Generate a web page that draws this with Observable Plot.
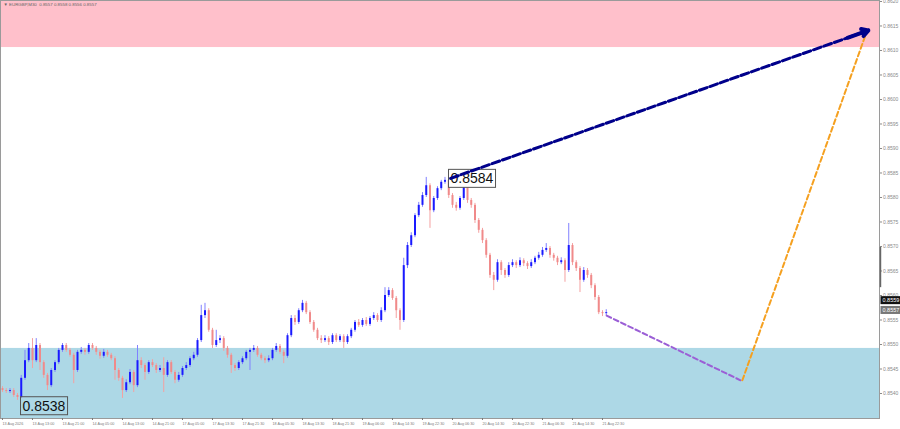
<!DOCTYPE html>
<html><head><meta charset="utf-8">
<script src="https://cdn.jsdelivr.net/npm/d3@7"></script>
<script src="https://cdn.jsdelivr.net/npm/@observablehq/plot@0.6"></script>
<style>body{margin:0;background:#fff} svg{display:block}</style>
</head><body><div id="chart"></div>
<script>
const symbolHeader = "▼ EURGBP,M30  0.8557 0.8558 0.8556 0.8557";

const opens = [
0.85410,0.85406,0.85404,0.85406,0.85396,0.85392,0.85431,0.85467,0.85492,0.85467,
0.85498,0.85463,0.85437,0.85416,0.85447,0.85463,0.85488,0.85498,0.85488,0.85478,
0.85447,0.85484,0.85488,0.85484,0.85498,0.85492,0.85484,0.85476,0.85484,0.85478,
0.85471,0.85447,0.85431,0.85406,0.85422,0.85443,0.85416,0.85467,0.85457,0.85443,
0.85463,0.85457,0.85447,0.85451,0.85437,0.85463,0.85443,0.85427,0.85437,0.85451,
0.85457,0.85471,0.85478,0.85508,0.85559,0.85569,0.85529,0.85498,0.85508,0.85512,
0.85492,0.85478,0.85457,0.85451,0.85463,0.85471,0.85484,0.85488,0.85492,0.85478,
0.85471,0.85467,0.85471,0.85488,0.85496,0.85484,0.85476,0.85518,0.85553,0.85545,
0.85569,0.85584,0.85565,0.85545,0.85529,0.85512,0.85508,0.85512,0.85504,0.85518,
0.85508,0.85516,0.85504,0.85516,0.85529,0.85545,0.85539,0.85549,0.85541,0.85553,
0.85559,0.85549,0.85569,0.85600,0.85610,0.85594,0.85569,0.85549,0.85661,0.85702,
0.85722,0.85763,0.85784,0.85804,0.85824,0.85773,0.85798,0.85818,0.85831,0.85835,
0.85804,0.85784,0.85778,0.85798,0.85824,0.85794,0.85784,0.85753,0.85733,0.85712,
0.85682,0.85641,0.85631,0.85667,0.85651,0.85641,0.85661,0.85667,0.85661,0.85671,
0.85665,0.85659,0.85667,0.85676,0.85682,0.85692,0.85696,0.85682,0.85676,0.85667,
0.85671,0.85651,0.85702,0.85667,0.85655,0.85631,0.85651,0.85641,0.85620,0.85596,
0.85565,0.85563];

const closes = [
0.85406,0.85404,0.85406,0.85396,0.85392,0.85431,0.85467,0.85492,0.85467,0.85498,
0.85463,0.85437,0.85416,0.85447,0.85463,0.85488,0.85498,0.85488,0.85478,0.85447,
0.85484,0.85488,0.85484,0.85498,0.85492,0.85484,0.85476,0.85484,0.85478,0.85471,
0.85447,0.85431,0.85406,0.85422,0.85443,0.85416,0.85467,0.85457,0.85443,0.85463,
0.85457,0.85447,0.85451,0.85437,0.85463,0.85443,0.85427,0.85437,0.85451,0.85457,
0.85471,0.85478,0.85508,0.85559,0.85569,0.85529,0.85498,0.85508,0.85512,0.85492,
0.85478,0.85457,0.85451,0.85463,0.85471,0.85484,0.85488,0.85492,0.85478,0.85471,
0.85467,0.85471,0.85488,0.85496,0.85484,0.85476,0.85518,0.85553,0.85545,0.85569,
0.85584,0.85565,0.85545,0.85529,0.85512,0.85508,0.85512,0.85504,0.85518,0.85508,
0.85516,0.85504,0.85516,0.85529,0.85545,0.85539,0.85549,0.85541,0.85553,0.85559,
0.85549,0.85569,0.85600,0.85610,0.85594,0.85569,0.85549,0.85661,0.85702,0.85722,
0.85763,0.85784,0.85804,0.85824,0.85773,0.85798,0.85818,0.85831,0.85835,0.85804,
0.85784,0.85778,0.85798,0.85824,0.85794,0.85784,0.85753,0.85733,0.85712,0.85682,
0.85641,0.85631,0.85667,0.85651,0.85641,0.85661,0.85667,0.85661,0.85671,0.85665,
0.85659,0.85667,0.85676,0.85682,0.85692,0.85696,0.85682,0.85676,0.85667,0.85671,
0.85651,0.85702,0.85667,0.85655,0.85631,0.85651,0.85641,0.85620,0.85596,0.85565,
0.85563,0.85565];

const highs = [
0.85414,0.85410,0.85410,0.85410,0.85400,0.85437,0.85488,0.85502,0.85512,0.85512,
0.85502,0.85467,0.85441,0.85451,0.85467,0.85492,0.85502,0.85502,0.85492,0.85482,
0.85488,0.85494,0.85492,0.85502,0.85502,0.85496,0.85488,0.85490,0.85488,0.85482,
0.85475,0.85451,0.85435,0.85428,0.85449,0.85447,0.85498,0.85473,0.85461,0.85467,
0.85469,0.85461,0.85457,0.85473,0.85467,0.85467,0.85447,0.85443,0.85455,0.85463,
0.85475,0.85484,0.85512,0.85580,0.85584,0.85573,0.85533,0.85529,0.85518,0.85516,
0.85496,0.85482,0.85461,0.85467,0.85475,0.85488,0.85492,0.85498,0.85496,0.85482,
0.85475,0.85477,0.85492,0.85502,0.85500,0.85488,0.85522,0.85559,0.85559,0.85573,
0.85590,0.85588,0.85569,0.85549,0.85533,0.85518,0.85518,0.85516,0.85522,0.85522,
0.85520,0.85520,0.85520,0.85533,0.85549,0.85551,0.85553,0.85555,0.85557,0.85565,
0.85563,0.85575,0.85616,0.85616,0.85614,0.85598,0.85573,0.85676,0.85708,0.85728,
0.85767,0.85790,0.85810,0.85841,0.85828,0.85802,0.85822,0.85835,0.85841,0.85839,
0.85808,0.85790,0.85802,0.85841,0.85828,0.85798,0.85788,0.85757,0.85737,0.85716,
0.85686,0.85647,0.85673,0.85671,0.85655,0.85667,0.85673,0.85671,0.85677,0.85675,
0.85669,0.85673,0.85680,0.85688,0.85698,0.85706,0.85700,0.85686,0.85680,0.85677,
0.85675,0.85747,0.85706,0.85671,0.85659,0.85657,0.85655,0.85645,0.85624,0.85600,
0.85569,0.85571];

const lows = [
0.85402,0.85400,0.85400,0.85392,0.85386,0.85390,0.85427,0.85463,0.85451,0.85463,
0.85447,0.85431,0.85406,0.85412,0.85443,0.85459,0.85484,0.85484,0.85474,0.85420,
0.85443,0.85480,0.85478,0.85480,0.85488,0.85478,0.85470,0.85472,0.85474,0.85467,
0.85427,0.85425,0.85390,0.85402,0.85418,0.85402,0.85412,0.85451,0.85427,0.85439,
0.85453,0.85441,0.85443,0.85402,0.85433,0.85439,0.85420,0.85423,0.85433,0.85447,
0.85453,0.85467,0.85474,0.85504,0.85553,0.85525,0.85492,0.85494,0.85502,0.85486,
0.85472,0.85441,0.85445,0.85447,0.85459,0.85467,0.85447,0.85484,0.85474,0.85467,
0.85461,0.85463,0.85467,0.85484,0.85480,0.85461,0.85472,0.85514,0.85539,0.85541,
0.85565,0.85561,0.85541,0.85525,0.85508,0.85502,0.85504,0.85498,0.85500,0.85504,
0.85504,0.85492,0.85500,0.85512,0.85525,0.85535,0.85535,0.85537,0.85537,0.85549,
0.85545,0.85545,0.85565,0.85596,0.85590,0.85553,0.85529,0.85545,0.85655,0.85698,
0.85718,0.85759,0.85780,0.85800,0.85737,0.85769,0.85794,0.85814,0.85827,0.85798,
0.85778,0.85772,0.85774,0.85794,0.85788,0.85778,0.85747,0.85727,0.85706,0.85676,
0.85635,0.85610,0.85627,0.85641,0.85635,0.85637,0.85657,0.85655,0.85657,0.85659,
0.85653,0.85655,0.85663,0.85672,0.85678,0.85688,0.85676,0.85670,0.85661,0.85663,
0.85627,0.85647,0.85661,0.85649,0.85606,0.85627,0.85635,0.85614,0.85590,0.85561,
0.85557,0.85559];

const timeTickIdx = [0,8,16,24,32,40,48,56,64,72,80,88,96,104,112,120,128,136,144,152,160];
const timeLabels = ["13 Aug 2026","13 Aug 13:00","13 Aug 21:00","14 Aug 05:00","14 Aug 13:00","14 Aug 21:00","17 Aug 05:00","17 Aug 13:30","17 Aug 21:30","18 Aug 05:30","18 Aug 13:30","18 Aug 21:30","19 Aug 06:00","19 Aug 14:30","19 Aug 22:30","20 Aug 06:30","20 Aug 14:30","20 Aug 22:30","21 Aug 06:30","21 Aug 14:30","21 Aug 22:30"];
const priceTicks = [0.8540,0.8545,0.8550,0.8555,0.8560,0.8565,0.8570,0.8575,0.8580,0.8585,0.8590,0.8595,0.8600,0.8605,0.8610,0.8615,0.8620];

const resistanceZone = [0.86106, 0.8630];
const supportZone = [0.8530, 0.85492];

const waveArrow = [{i:119.5, p:0.85839},{i:230.9, p:0.86141}];
const wavePurple = [{i:161.1, p:0.85559},{i:196.8, p:0.85427}];
const waveOrange = [{i:197.3, p:0.85427},{i:230.4, p:0.86137}];
const waveLabels = [{i:119.2, p:0.85838, t:"0.8584"},{i:5.07, p:0.85374, t:"0.8538"}];
const priceTags = [{i:234.67, p:0.8559, t:"0.8559"},{i:234.67, p:0.8557, t:"0.8557"}];

const candles = closes.map((c,i)=>({i, o:opens[i], h:highs[i], l:lows[i], c}));
const up = candles.filter(d=>d.c>=d.o), dn = candles.filter(d=>d.c<d.o);

const a0 = waveArrow[0], a1 = waveArrow[1], t = 0.95;
const headSeg = [{x1:a0.i+(a1.i-a0.i)*t, y1:a0.p+(a1.p-a0.p)*t, x2:a1.i, y2:a1.p}];

const chart = Plot.plot({
  width:900, height:429, marginLeft:0, marginRight:21, marginTop:0, marginBottom:11,
  style:{background:"#fff", fontFamily:"'Liberation Sans', Arial, sans-serif"},
  x:{domain:[-0.533,233.87], axis:null},
  y:{domain:[0.85349,0.86202], axis:null},
  marks:[
    Plot.rect([resistanceZone], {x1:-5, x2:300, y1:d=>d[0], y2:d=>d[1], fill:"#ffc0cb", clip:true}),
    Plot.rect([supportZone], {x1:-5, x2:300, y1:d=>d[0], y2:d=>d[1], fill:"#add8e6", clip:true}),
    Plot.frame({stroke:"#9a9a9a"}),
    Plot.axisY({anchor:"right", ticks:priceTicks, tickFormat:d=>d.toFixed(4), fontSize:5, tickSize:2, tickPadding:1.5, color:"#8a8a8a"}),
    Plot.axisX({ticks:timeTickIdx, tickFormat:d=>timeLabels[timeTickIdx.indexOf(d)], textAnchor:"start", fontSize:3.7, tickSize:2, tickPadding:1.5, color:"#7a7a7a"}),
    Plot.ruleX(up, {x:"i", y1:"l", y2:"h", stroke:"#8080ff", strokeWidth:1}),
    Plot.ruleX(dn, {x:"i", y1:"l", y2:"h", stroke:"#f4a0a0", strokeWidth:1}),
    Plot.ruleX(up, {x:"i", y1:"o", y2:"c", stroke:"#1a1aff", strokeWidth:2}),
    Plot.ruleX(dn, {x:"i", y1:"o", y2:"c", stroke:"#f08a8a", strokeWidth:2}),
    Plot.line(wavePurple, {x:"i", y:"p", stroke:"#9b5fd6", strokeWidth:2, strokeDasharray:"5,3"}),
    Plot.line(waveOrange, {x:"i", y:"p", stroke:"#f5a020", strokeWidth:2, strokeDasharray:"5,3"}),
    Plot.text(waveLabels, {x:"i", y:"p", text:"t", textAnchor:"start", fontSize:14, fill:"#111", dx:1}),
    Plot.line(waveArrow, {x:"i", y:"p", stroke:"#00008b", strokeWidth:3, strokeDasharray:"8,3"}),
    Plot.arrow(headSeg, {x1:"x1", y1:"y1", x2:"x2", y2:"y2", stroke:"#00008b", strokeWidth:4, headLength:17, headAngle:60}),
    Plot.ruleX([234.13], {y1:0.85616, y2:0.85698, stroke:"#666", strokeWidth:1.5}),
    Plot.text(priceTags, {x:"i", y:"p", text:"t", textAnchor:"start", fontSize:5.5, fill:"#fff"}),
    Plot.text([symbolHeader], {frameAnchor:"top-left", text:d=>d, dx:3, dy:2, fontSize:4.4, fill:"#666", lineAnchor:"top"})
  ]
});
document.getElementById("chart").append(chart);

const boxStyle = {
  "0.8584": {fill:"#fff", stroke:"#555", pad:[2,1]},
  "0.8538": {fill:"none", stroke:"#555", pad:[2,1]},
  "0.8559": {fill:"#111", stroke:"none", pad:[2,1]},
  "0.8557": {fill:"#777", stroke:"none", pad:[2,1]}
};
chart.querySelectorAll("text").forEach(el => {
  const s = boxStyle[el.textContent];
  if (!s) return;
  const b = el.getBBox();
  const r = document.createElementNS("http://www.w3.org/2000/svg","rect");
  r.setAttribute("x", b.x - s.pad[0]);
  r.setAttribute("y", b.y - s.pad[1]);
  r.setAttribute("width", b.width + 2*s.pad[0]);
  r.setAttribute("height", b.height + 2*s.pad[1]);
  r.setAttribute("fill", s.fill);
  r.setAttribute("stroke", s.stroke);
  const tr = el.getAttribute("transform");
  if (tr) r.setAttribute("transform", tr);
  el.parentNode.insertBefore(r, el);
});
</script>
</body></html>
